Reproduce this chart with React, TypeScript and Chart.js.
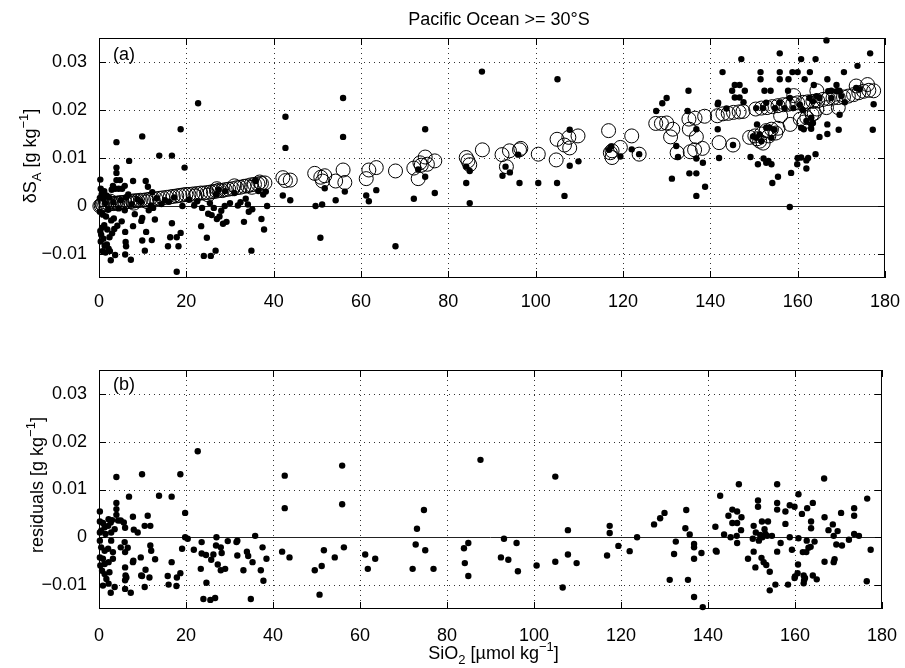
import React, { useEffect, useRef } from 'react';
import { Chart, registerables } from 'chart.js';

Chart.register(...registerables);

// ---------------- data ----------------
const xLimits = [0, 180];
const yLimits = [-0.015, 0.035];
const xTickValues = [0, 20, 40, 60, 80, 100, 120, 140, 160, 180];
const xTickLabels = ['0', '20', '40', '60', '80', '100', '120', '140', '160', '180'];
const yTickValues = [-0.01, 0, 0.01, 0.02, 0.03];
const yTickLabels = ['\u22120.01', '0', '0.01', '0.02', '0.03'];

const chartTitle = 'Pacific Ocean >= 30\u00B0S';
const panelLabels = ['(a)', '(b)'];

// panel (a): measured delta S_A (filled dots)  [SiO2, dSA]
const measuredPoints: [number, number][] = [
  [0.3, 0.0055], [0.4, 0.0036], [0.8, 0.003], [1.2, 0.0031], [0.6, 0.0024], [0.2, 0.0017], [1.0, 0.0015], [1.7, 0.0022],
  [2.3, 0.0018], [2.9, 0.0034], [3.7, 0.0036], [4.5, 0.0036], [5.3, 0.0036], [4.0, 0.008], [4.0, 0.0069], [4.0, 0.0054],
  [4.8, 0.0054], [5.9, 0.0042], [3.2, 0.0042], [6.7, 0.0024], [7.8, 0.0052], [10.7, 0.0052], [11.2, 0.004], [12.2, 0.0029],
  [8.8, 0.0014], [9.6, 0.0009], [6.2, 0.0018], [5.0, 0.0012], [7.5, 0.0004], [3.3, 0.0008], [1.4, 0.0006], [11.9, 0.0001],
  [4.0, 0.0133], [9.9, 0.0145], [6.9, 0.0094], [13.8, 0.0105], [16.7, 0.0105], [18.7, 0.016], [19.6, 0.008], [22.7, 0.0214],
  [0.2, -0.0012], [0.9, -0.0018], [1.6, -0.0022], [2.1, -0.0008], [2.8, -0.003], [3.4, -0.0026], [4.5, -0.0005], [5.9, -0.0009],
  [0.3, -0.0052], [0.7, -0.0045], [1.2, -0.004], [1.9, -0.0049], [3.5, -0.0048], [3.0, -0.0057], [2.4, -0.0065], [0.5, -0.006],
  [1.0, -0.0068], [0.4, -0.0074], [1.8, -0.008], [1.3, -0.0083], [2.2, -0.0089], [0.8, -0.0094], [1.5, -0.0097], [2.5, -0.0094],
  [2.7, -0.0113], [3.7, -0.0102], [4.2, -0.0041], [5.2, -0.0032], [6.0, -0.0054], [6.1, -0.0075], [6.2, -0.0084], [6.0, -0.0101],
  [7.3, -0.0112], [7.8, -0.0042], [8.2, -0.0017], [9.7, -0.0031], [9.9, -0.0025], [9.9, -0.0072], [10.5, -0.0093], [10.8, -0.0054],
  [12.1, -0.0071], [12.8, -0.0028], [11.4, -0.0009], [12.4, -0.0004],
  [15.8, -0.0084], [16.3, -0.0065], [16.7, -0.0036], [17.8, -0.0065], [17.8, -0.0137], [18.2, -0.0084], [18.7, -0.0056],
  [23.4, -0.0042], [24.7, -0.0066], [24.0, -0.0104], [25.6, -0.0104], [26.7, -0.0093],
  [19.1, 0.0], [21.8, 0.0001], [23.6, -0.0004], [26.3, -0.0004], [25.0, -0.0016], [25.8, -0.0019], [27.0, -0.0027], [28.0, -0.001],
  [28.4, -0.0037], [29.2, -0.0033], [27.6, -0.0022], [28.8, 0.0], [30.0, 0.0006], [32.4, 0.0008], [25.4, 0.0006], [22.5, 0.001],
  [20.6, 0.0013], [16.0, 0.0009], [14.3, 0.0004], [13.2, 0.0016], [17.2, 0.0018], [15.1, 0.0012], [26.8, 0.0024], [27.4, 0.0034],
  [28.9, 0.0031], [31.0, 0.0027], [33.6, 0.0015], [36.5, 0.0031], [38.2, 0.003],
  [31.8, 0.0001], [34.1, 0.0003], [35.1, -0.0007], [34.3, -0.0012], [33.2, -0.0033], [37.2, -0.0027], [37.8, -0.0049],
  [34.9, -0.0093], [38.5, 0.0], [35.9, 0.0052], [37.6, 0.0024],
  [42.1, 0.0022], [43.8, 0.0012], [42.7, 0.0121], [42.7, 0.0186], [49.6, 0.0], [51.1, 0.0003], [50.7, -0.0066], [51.7, 0.0037],
  [54.2, 0.0012], [56.3, 0.003], [55.9, 0.0144], [55.9, 0.0225], [61.2, 0.0022], [61.8, 0.001], [63.5, 0.0033], [67.9, -0.0084],
  [72.1, 0.0015], [73.1, 0.0076], [74.7, 0.0061], [74.7, 0.016], [76.9, 0.0027],
  [84.1, 0.0082], [84.9, 0.0073], [84.1, 0.0048], [84.9, 0.0006], [87.7, 0.028], [92.4, 0.0063], [93.1, 0.0082], [94.1, 0.007],
  [96.0, 0.0107], [96.3, 0.0048], [100.6, 0.0048], [104.9, 0.0048], [105.0, 0.0264], [106.6, 0.0021], [107.8, 0.0159],
  [107.8, 0.0084], [109.8, 0.0093], [116.8, 0.0117], [117.3, 0.0124], [119.4, 0.0103], [122.0, 0.0118], [123.7, 0.0108],
  [127.6, 0.0198], [129.0, 0.0214], [130.0, 0.0225], [131.2, 0.0057], [132.2, 0.0125], [132.6, 0.0102], [134.8, 0.0198],
  [135.0, 0.024], [135.2, 0.0068], [136.8, 0.0068], [136.8, 0.016], [136.8, 0.0099], [136.8, 0.0021], [138.3, 0.009],
  [138.8, 0.004], [141.7, 0.016], [141.7, 0.0212], [141.8, 0.0215], [142.0, 0.01], [142.8, 0.0279], [143.7, 0.0203],
  [145.0, 0.024], [145.2, 0.0127], [145.6, 0.0252], [145.6, 0.0226], [146.7, 0.0252], [146.7, 0.0226], [147.1, 0.0306],
  [147.6, 0.0216], [147.9, 0.024], [149.2, 0.0102], [149.8, 0.0145], [150.5, 0.0142], [150.5, 0.0204], [150.7, 0.017],
  [150.9, 0.0087], [151.3, 0.0149], [151.5, 0.0279], [151.5, 0.0264], [151.7, 0.0135], [152.1, 0.0204], [152.2, 0.0099],
  [152.4, 0.024], [152.8, 0.0215], [152.8, 0.0163], [152.8, 0.009], [153.3, 0.0094], [153.6, 0.0163], [153.8, 0.024],
  [154.0, 0.0142], [154.0, 0.0087], [154.2, 0.0048], [154.7, 0.0159], [154.8, 0.0204], [155.5, 0.0061], [155.9, 0.0318],
  [155.9, 0.0279], [155.9, 0.0264], [155.9, 0.0215], [157.0, 0.0204], [157.8, 0.024], [157.9, 0.0264], [158.2, 0.0225],
  [158.2, -0.0002], [158.5, 0.0069], [158.8, 0.0279], [159.0, 0.0204], [159.9, 0.0087], [160.0, 0.0279], [160.0, 0.01],
  [160.5, 0.0211], [160.8, 0.0306], [160.8, 0.0163], [160.8, 0.0101], [161.2, 0.02], [161.4, 0.016], [161.6, 0.0264],
  [162.0, 0.0177], [162.0, 0.0095], [162.0, 0.0078], [162.4, 0.01], [162.7, 0.0225], [162.8, 0.0279], [163.1, 0.0184],
  [163.1, 0.017], [163.1, 0.0161], [163.5, 0.0218], [163.5, 0.0173], [163.7, 0.0252], [164.1, 0.0306], [164.1, 0.0108],
  [164.3, 0.0229], [165.0, 0.0225], [165.0, 0.0144], [166.6, 0.0345], [166.8, 0.0264], [166.8, 0.017], [166.8, 0.015],
  [167.0, 0.0239], [167.7, 0.024], [167.7, 0.0225], [168.9, 0.0252], [168.9, 0.0239], [169.4, 0.0159], [169.5, 0.024],
  [169.6, 0.0239], [169.6, 0.019], [170.0, 0.0229], [170.6, 0.0279], [170.8, 0.0216], [173.4, 0.0246], [173.7, 0.0292],
  [174.2, 0.0243], [176.6, 0.0318], [177.2, 0.0159], [177.4, 0.0212],
];

// panel (a): fitted delta S_A (open circles)  [SiO2, dSA]
const fittedPoints: [number, number][] = [
  [0.2, 0.0], [0.5, 0.0001], [0.7, 0.0004], [0.9, 0.0002], [1.3, 0.0003], [1.5, 0.0008], [1.8, 0.0003], [2.3, 0.0004],
  [2.6, 0.001], [2.8, 0.0005], [3.3, 0.0005], [3.8, 0.0006], [4.3, 0.0006], [4.8, 0.0007], [5.3, 0.0007], [5.9, 0.0008],
  [6.5, 0.0009], [7.1, 0.0009], [7.7, 0.001], [8.0, 0.0006], [8.3, 0.0011], [8.9, 0.0011], [9.5, 0.0012], [10.2, 0.0012],
  [10.9, 0.0013], [11.0, 0.0009], [11.6, 0.0014], [12.3, 0.0015],
  [13.0, 0.0015], [13.8, 0.0016], [14.6, 0.0017], [15.5, 0.0018], [16.3, 0.0019], [17.0, 0.002], [17.8, 0.0021], [18.5, 0.0022],
  [19.2, 0.0023], [19.9, 0.0024], [20.6, 0.0024], [21.5, 0.0025], [22.0, 0.0021], [22.4, 0.0026], [23.3, 0.0027], [24.0, 0.0027],
  [24.8, 0.0028], [25.0, 0.0023], [25.5, 0.0029], [26.2, 0.003], [26.9, 0.0031], [27.0, 0.0036], [27.5, 0.0033], [28.2, 0.0032],
  [28.9, 0.0034], [29.7, 0.0035], [30.6, 0.0036], [31.0, 0.0042], [31.5, 0.0038], [32.3, 0.0039], [33.2, 0.0041], [34.0, 0.0042],
  [34.8, 0.0044], [35.0, 0.0039], [35.6, 0.0045], [36.4, 0.0046], [36.8, 0.005], [37.2, 0.0047], [38.0, 0.0048],
  [42.1, 0.0059], [42.7, 0.0053], [43.8, 0.0054], [49.4, 0.0068], [50.8, 0.006], [51.2, 0.0052], [51.7, 0.0063], [54.2, 0.0052],
  [55.9, 0.0075], [56.3, 0.0049], [61.2, 0.0057], [61.8, 0.0075], [63.5, 0.008], [67.9, 0.0073], [72.1, 0.0079], [73.1, 0.0057],
  [73.5, 0.009], [73.8, 0.0085], [74.7, 0.0102], [75.2, 0.0087], [76.9, 0.0094],
  [84.1, 0.0101], [84.5, 0.0094], [84.9, 0.0086], [87.8, 0.0117], [92.3, 0.0107], [93.3, 0.0082], [94.0, 0.0115], [96.3, 0.0117],
  [96.6, 0.012], [100.6, 0.0108], [104.7, 0.0096], [104.9, 0.0139], [106.6, 0.0127], [107.6, 0.0143], [107.8, 0.0121],
  [109.7, 0.0146], [116.7, 0.0157], [117.1, 0.0111], [117.5, 0.0115], [117.5, 0.0101], [119.4, 0.0122], [122.0, 0.0146],
  [123.7, 0.0108], [127.5, 0.0172], [128.8, 0.0172], [130.0, 0.0173], [130.9, 0.0144], [131.4, 0.016], [132.4, 0.0111],
  [135.1, 0.0181], [135.2, 0.016], [135.4, 0.0113], [136.4, 0.0117], [136.5, 0.0183], [136.8, 0.0144], [138.2, 0.012],
  [138.7, 0.0187], [142.0, 0.0132], [145.2, 0.0127],
  [141.6, 0.0188], [142.9, 0.0192], [144.1, 0.0193], [145.3, 0.0195], [146.6, 0.0196], [147.5, 0.0197],
  [150.4, 0.0202], [151.7, 0.0204], [153.0, 0.0205], [154.2, 0.0207], [155.5, 0.0209], [156.7, 0.0211], [157.8, 0.0212],
  [158.9, 0.0213], [160.0, 0.0215], [161.2, 0.0216], [162.3, 0.0217], [163.5, 0.0218], [164.6, 0.0219], [165.8, 0.0222],
  [167.0, 0.0224], [168.1, 0.0225], [169.3, 0.0226], [170.5, 0.0227], [171.6, 0.0229], [172.8, 0.0232], [174.0, 0.0236],
  [175.1, 0.0239], [176.3, 0.0241], [177.4, 0.024], [173.4, 0.025], [176.0, 0.0253],
  [149.0, 0.0143], [150.2, 0.0146], [150.7, 0.014], [151.3, 0.0135], [151.7, 0.015], [152.1, 0.0131], [152.8, 0.0157],
  [153.4, 0.0146], [154.0, 0.016], [155.0, 0.0152], [155.5, 0.0162], [156.1, 0.0188], [158.3, 0.017], [159.1, 0.023],
  [160.6, 0.0181], [161.5, 0.0175], [162.1, 0.0184], [163.3, 0.0191], [163.8, 0.0193], [164.4, 0.0202], [164.4, 0.024],
  [166.6, 0.0205], [169.3, 0.0205],
];

// panel (b): residuals (filled dots)  [SiO2, residual]
const residualPoints: [number, number][] = [
  [0.2, 0.0054], [0.2, 0.0033], [0.9, 0.003], [2.2, 0.0038], [3.0, 0.0036], [2.7, 0.0031], [2.1, 0.0024], [1.3, 0.0021],
  [0.5, 0.0014], [0.2, 0.001], [1.5, 0.0007], [2.8, 0.001], [3.6, 0.0017], [4.4, 0.0035], [5.0, 0.0035], [5.7, 0.0031],
  [6.0, 0.002], [4.0, 0.0047], [4.0, 0.0059], [4.0, 0.0072], [4.0, 0.0126], [6.9, 0.0085], [7.8, 0.0043], [8.0, 0.0016],
  [8.9, 0.001], [9.9, 0.0132], [10.5, 0.0024], [11.2, 0.0045], [11.8, 0.0024],
  [0.2, -0.0007], [2.8, -0.0007], [0.5, -0.0021], [1.3, -0.0028], [2.1, -0.0024], [3.2, -0.0031], [5.0, -0.0021],
  [5.9, -0.001], [6.6, -0.0022], [6.0, -0.0031], [0.2, -0.0042], [0.9, -0.0045], [1.3, -0.0056], [2.2, -0.0052],
  [3.2, -0.0045], [0.3, -0.0059], [0.7, -0.007], [1.3, -0.0077], [2.4, -0.0073], [1.7, -0.0087], [0.9, -0.0101],
  [2.2, -0.0097], [2.7, -0.0116], [3.6, -0.0104], [6.0, -0.0063], [6.1, -0.008], [6.3, -0.0084], [6.0, -0.009],
  [6.0, -0.0108], [7.3, -0.0116], [7.8, -0.0052], [7.9, -0.0049], [9.6, -0.0042], [9.7, -0.008], [9.9, -0.0081],
  [10.7, -0.0068], [10.5, -0.0104], [11.6, -0.0084], [11.8, -0.0017], [12.0, -0.0028], [12.9, -0.0046],
  [13.8, 0.0087], [16.7, 0.0085], [18.7, 0.0132], [19.8, 0.0051], [22.7, 0.018], [19.8, 0.0], [20.4, -0.0003],
  [19.1, -0.0024], [16.7, -0.0052], [15.8, -0.0081], [16.0, -0.0099], [17.8, -0.0102], [17.9, -0.0084], [18.7, -0.0075],
  [21.8, -0.0026], [23.4, -0.0066], [23.6, -0.001], [23.6, -0.0034], [24.6, -0.0037], [24.7, -0.0095], [24.0, -0.0129],
  [25.6, -0.0131], [26.7, -0.0127], [25.8, -0.0047], [26.3, -0.0036], [27.0, 0.0], [26.9, -0.0017], [27.3, -0.0057],
  [28.0, -0.0021], [28.2, -0.0033], [28.0, -0.0069], [29.0, -0.0066], [29.6, -0.0008], [31.6, -0.001], [31.8, -0.0007],
  [31.8, -0.0038], [33.2, -0.0069], [34.0, -0.003], [34.3, -0.0039], [35.3, -0.0052], [34.9, -0.0129], [35.9, 0.0003],
  [37.6, -0.0021], [38.5, -0.0045], [37.2, -0.0069], [37.8, -0.0091],
  [42.7, 0.0129], [42.7, 0.0061], [42.1, -0.003], [43.8, -0.0042], [49.6, -0.0069], [51.2, -0.006], [50.7, -0.012],
  [51.7, -0.0027], [54.2, -0.0042], [55.9, 0.015], [55.9, 0.0069], [56.3, -0.0021], [61.2, -0.0036], [61.8, -0.0066],
  [63.5, -0.0045], [72.1, -0.0066], [72.8, -0.0015], [73.1, 0.0018], [74.7, 0.0057], [75.0, -0.0027], [76.9, -0.0066],
  [83.9, -0.0023], [84.9, -0.0012], [84.1, -0.0054], [84.9, -0.0081], [87.7, 0.0162], [92.4, -0.0042], [93.1, -0.0003],
  [94.1, -0.0047], [96.0, -0.0012], [96.3, -0.0071], [100.6, -0.0059], [104.9, 0.0127], [104.9, -0.0051], [106.6, -0.0105],
  [107.8, 0.0015], [107.8, -0.0036], [109.8, -0.0054], [116.8, -0.0038], [117.4, 0.0024], [117.4, 0.0009], [119.4, -0.0018],
  [122.0, -0.0029], [123.7, 0.0], [127.6, 0.0027], [129.0, 0.004], [130.0, 0.0051],
  [131.2, -0.0089], [132.2, -0.0035], [132.6, -0.0009], [134.8, 0.0019], [135.0, 0.0057], [135.8, 0.0006], [135.4, -0.0089],
  [136.8, -0.0014], [136.8, -0.0021], [136.8, -0.0045], [136.8, -0.0125], [138.5, -0.0033], [138.8, -0.0146], [141.7, 0.0022],
  [141.8, -0.0028], [142.0, -0.003], [142.8, 0.0087], [143.7, 0.0006], [144.7, 0.0045], [145.2, 0.0], [145.6, 0.0058],
  [145.6, 0.003], [146.6, 0.0003], [146.7, 0.0054], [146.7, 0.003], [146.7, -0.0012], [147.1, 0.0111], [147.6, 0.0015],
  [147.7, 0.0042], [149.2, -0.0045], [150.3, -0.0003], [150.5, 0.0024], [150.5, -0.003], [150.9, -0.0063], [151.0, 0.001],
  [151.5, 0.0077], [151.5, 0.0064], [151.7, -0.0007], [152.0, 0.0005], [152.3, -0.0043], [152.4, 0.0033], [152.5, 0.0],
  [152.8, -0.0052], [153.0, 0.0017], [153.2, 0.0007], [153.4, -0.0058], [153.6, 0.0003], [153.8, 0.0033], [154.2, -0.0072],
  [154.2, -0.0111], [154.7, 0.0003], [155.5, -0.0099], [155.9, 0.0111], [155.9, 0.0072], [155.9, 0.0058], [155.9, -0.003],
  [156.7, -0.0012], [157.8, 0.0054], [157.8, 0.0028], [158.4, -0.0099], [158.8, 0.0067], [158.8, 0.0], [159.3, -0.0026],
  [159.9, 0.0064], [159.9, -0.0085], [160.0, -0.0082], [160.6, -0.0075], [160.7, -0.0057], [160.8, 0.009], [160.8, -0.0002],
  [161.6, 0.0049], [161.8, -0.0031], [162.0, -0.008], [162.1, -0.009], [162.3, -0.0085], [162.0, -0.0096], [162.6, -0.0031],
  [162.7, -0.0007], [162.8, 0.0061], [163.1, -0.0022], [163.6, -0.002], [163.7, 0.0033], [163.7, 0.0019], [164.1, 0.0072],
  [164.1, -0.008], [164.5, -0.0009], [165.0, -0.0088], [166.7, 0.0123], [166.8, 0.0042], [166.8, -0.0051], [167.7, 0.0015],
  [168.7, 0.0027], [168.9, 0.0003], [168.9, -0.0052], [169.1, -0.0046], [169.5, -0.0015], [169.8, 0.0013], [170.6, 0.0051],
  [170.8, -0.0017], [172.4, -0.0005], [173.6, 0.0061], [173.6, 0.0045], [173.6, 0.0007], [174.7, 0.0003], [176.5, -0.0092],
  [176.6, 0.0081], [177.4, -0.0026],
];

// ---------------- rendering ----------------
const FAMILY = '"Liberation Sans", Arial, Helvetica, sans-serif';
const FONT_SIZE = 18;

type Seg = { t: string; k?: 'sub' | 'sup' };

const yTitleA: Seg[] = [{ t: '\u03B4S' }, { t: 'A', k: 'sub' }, { t: ' [g kg' }, { t: '\u22121', k: 'sup' }, { t: ']' }];
const yTitleB: Seg[] = [{ t: 'residuals [g kg' }, { t: '\u22121', k: 'sup' }, { t: ']' }];
const xTitle: Seg[] = [{ t: 'SiO' }, { t: '2', k: 'sub' }, { t: ' [\u00B5mol kg' }, { t: '\u22121', k: 'sup' }, { t: ']' }];

function drawRich(ctx: CanvasRenderingContext2D, segs: Seg[], x: number, y: number, align: 'center' | 'left') {
  const main = `${FONT_SIZE}px ${FAMILY}`;
  const small = `${Math.round(FONT_SIZE * 0.72)}px ${FAMILY}`;
  const widths = segs.map((s) => {
    ctx.font = s.k ? small : main;
    return ctx.measureText(s.t).width;
  });
  const total = widths.reduce((a, b) => a + b, 0);
  let cx = align === 'center' ? x - total / 2 : x;
  ctx.textAlign = 'left';
  ctx.textBaseline = 'alphabetic';
  ctx.fillStyle = '#000';
  segs.forEach((s, i) => {
    ctx.font = s.k ? small : main;
    const dy = s.k === 'sub' ? FONT_SIZE * 0.28 : s.k === 'sup' ? -FONT_SIZE * 0.42 : 0;
    ctx.fillText(s.t, cx, y + dy);
    cx += widths[i];
  });
}

type PanelCfg = {
  top: number;
  height: number;
  areaTop: number;
  xAxisHeight: number;
  tickPad: number;
  label: string;
  labelBaseline: number;
  yTitle: Seg[];
  yTitleX: number;
  yTitleCenter: number;
  title?: string;
  xTitleBaseline?: number;
  datasets: any[];
};

const framePlugin = (cfg: PanelCfg) => ({
  id: 'matlabFrame',
  beforeDatasetsDraw(chart: any) {
    const { ctx, chartArea, scales } = chart;
    const { left, right, top, bottom } = chartArea;
    ctx.save();
    // dotted grid
    ctx.strokeStyle = '#333';
    ctx.lineWidth = 1;
    ctx.setLineDash([1, 4]);
    xTickValues.forEach((v) => {
      const px = Math.round(scales.x.getPixelForValue(v)) + 0.5;
      if (px <= left + 1 || px >= right - 1) return;
      ctx.beginPath();
      ctx.moveTo(px, top);
      ctx.lineTo(px, bottom);
      ctx.stroke();
    });
    yTickValues.forEach((v) => {
      if (v === 0) return;
      const py = Math.round(scales.y.getPixelForValue(v)) + 0.5;
      ctx.beginPath();
      ctx.moveTo(left, py);
      ctx.lineTo(right, py);
      ctx.stroke();
    });
    ctx.setLineDash([]);
    // zero line
    const p0 = Math.round(scales.y.getPixelForValue(0)) + 0.5;
    ctx.strokeStyle = '#222';
    ctx.beginPath();
    ctx.moveTo(left, p0);
    ctx.lineTo(right, p0);
    ctx.stroke();
    ctx.restore();
  },
  afterDraw(chart: any) {
    const { ctx, chartArea, scales } = chart;
    const { left, right, top, bottom } = chartArea;
    ctx.save();
    ctx.strokeStyle = '#000';
    ctx.lineWidth = 1;
    ctx.setLineDash([]);
    ctx.strokeRect(left + 0.5, top + 0.5, right - left - 1, bottom - top - 1);
    const tl = 7;
    ctx.beginPath();
    xTickValues.forEach((v) => {
      const px = Math.round(scales.x.getPixelForValue(v)) + 0.5;
      ctx.moveTo(px, bottom);
      ctx.lineTo(px, bottom - tl);
      ctx.moveTo(px, top);
      ctx.lineTo(px, top + tl);
    });
    yTickValues.forEach((v) => {
      const py = Math.round(scales.y.getPixelForValue(v)) + 0.5;
      ctx.moveTo(left, py);
      ctx.lineTo(left + tl, py);
      ctx.moveTo(right, py);
      ctx.lineTo(right - tl, py);
    });
    ctx.stroke();

    // panel label
    ctx.fillStyle = '#000';
    ctx.font = `${FONT_SIZE}px ${FAMILY}`;
    ctx.textAlign = 'left';
    ctx.textBaseline = 'alphabetic';
    ctx.fillText(cfg.label, left + 14, cfg.labelBaseline);

    // title
    if (cfg.title) {
      ctx.textAlign = 'center';
      ctx.fillText(cfg.title, 499, 25);
    }
    // y title
    ctx.save();
    ctx.translate(cfg.yTitleX, cfg.yTitleCenter);
    ctx.rotate(-Math.PI / 2);
    drawRich(ctx, cfg.yTitle, 0, 0, 'center');
    ctx.restore();
    // x title
    if (cfg.xTitleBaseline !== undefined) {
      drawRich(ctx, xTitle, (left + right) / 2 + 3, cfg.xTitleBaseline, 'center');
    }
    ctx.restore();
  },
});

function Panel({ cfg }: { cfg: PanelCfg }) {
  const ref = useRef<HTMLCanvasElement | null>(null);
  useEffect(() => {
    if (!ref.current) return;
    const font = { family: FAMILY, size: FONT_SIZE };
    const chart = new Chart(ref.current, {
      type: 'scatter',
      data: { datasets: cfg.datasets },
      options: {
        responsive: false,
        animation: false,
        events: [],
        layout: { padding: { left: 0, right: 20, top: cfg.areaTop, bottom: 0 } },
        plugins: { legend: { display: false }, tooltip: { enabled: false }, title: { display: false } },
        scales: {
          x: {
            type: 'linear',
            position: 'bottom',
            min: xLimits[0],
            max: xLimits[1],
            grid: { display: false },
            border: { display: false },
            afterBuildTicks: (s: any) => {
              s.ticks = xTickValues.map((v) => ({ value: v }));
            },
            afterFit: (s: any) => {
              s.height = cfg.xAxisHeight;
            },
            ticks: {
              font,
              color: '#000',
              padding: cfg.tickPad,
              maxRotation: 0,
              autoSkip: false,
              callback: (_v: any, i: number) => xTickLabels[i],
            },
          },
          y: {
            type: 'linear',
            min: yLimits[0],
            max: yLimits[1],
            grid: { display: false },
            border: { display: false },
            afterBuildTicks: (s: any) => {
              s.ticks = yTickValues.map((v) => ({ value: v }));
            },
            afterFit: (s: any) => {
              s.width = 99;
            },
            ticks: {
              font,
              color: '#000',
              padding: 4,
              autoSkip: false,
              callback: (_v: any, i: number) => yTickLabels[i],
            },
          },
        },
      } as any,
      plugins: [framePlugin(cfg)],
    });
    return () => chart.destroy();
  }, [cfg]);
  return (
    <canvas
      ref={ref}
      width={905}
      height={cfg.height}
      style={{ position: 'absolute', left: 0, top: cfg.top, width: 905, height: cfg.height, display: 'block' }}
    />
  );
}

const toXY = (pts: [number, number][]) => pts.map(([x, y]) => ({ x, y }));

const dotStyle = {
  pointRadius: 3.2,
  pointBackgroundColor: '#000',
  pointBorderColor: '#000',
  pointBorderWidth: 0,
  showLine: false,
  clip: false as any,
};

const panelA: PanelCfg = {
  top: 0,
  height: 334,
  areaTop: 38,
  xAxisHeight: 56,
  tickPad: 5,
  label: panelLabels[0],
  labelBaseline: 60,
  yTitle: yTitleA,
  yTitleX: 36,
  yTitleCenter: 156,
  title: chartTitle,
  datasets: [
    {
      label: 'fit',
      data: toXY(fittedPoints),
      pointRadius: 7,
      pointBackgroundColor: 'rgba(0,0,0,0)',
      pointBorderColor: '#000',
      pointBorderWidth: 1,
      showLine: false,
      clip: false,
    },
    { label: 'measured', data: toXY(measuredPoints), ...dotStyle },
  ],
};

const panelB: PanelCfg = {
  top: 334,
  height: 334,
  areaTop: 36,
  xAxisHeight: 59,
  tickPad: 8,
  label: panelLabels[1],
  labelBaseline: 56,
  yTitle: yTitleB,
  yTitleX: 43,
  yTitleCenter: 151,
  xTitleBaseline: 325,
  datasets: [{ label: 'residuals', data: toXY(residualPoints), ...dotStyle }],
};

export default function App() {
  return (
    <div style={{ position: 'absolute', left: 0, top: 0, width: 905, height: 668, background: '#fff' }}>
      <Panel cfg={panelA} />
      <Panel cfg={panelB} />
    </div>
  );
}
